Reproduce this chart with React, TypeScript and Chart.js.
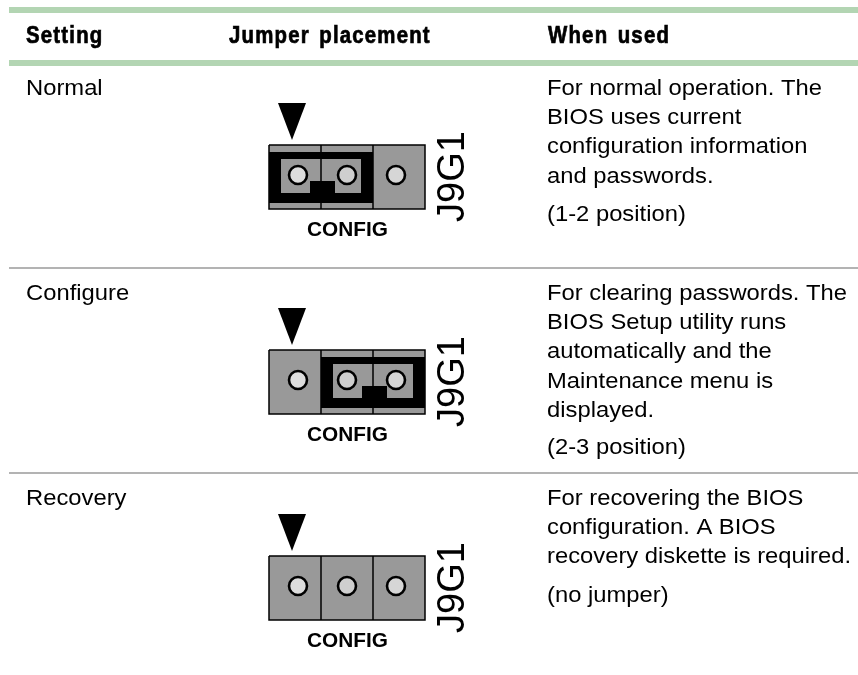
import React, { useEffect, useRef } from "react";
import { Chart, registerables } from "chart.js";

Chart.register(...registerables);

const headers = ["Setting", "Jumper placement", "When used"];
const settings = ["Normal", "Configure", "Recovery"];
const pinLabel = "CONFIG";
const connectorLabel = "J9G1";
const normalUse = ["For normal operation. The", "BIOS uses current", "configuration information", "and passwords."];
const configureUse = ["For clearing passwords. The", "BIOS Setup utility runs", "automatically and the", "Maintenance menu is", "displayed."];
const recoveryUse = ["For recovering the BIOS", "configuration. A BIOS", "recovery diskette is required."];
const positions = ["(1-2 position)", "(2-3 position)", "(no jumper)"];
const jumperFirstPin = [0, 1, null];

const W = 858;
const H = 675;
const BODY = '"Liberation Sans", Arial, sans-serif';

const blockTop = [145, 350, 556];
const rowTextY = [95, 300, 505];
const positionY = [221, 454, 602];
const headerX = [26, 229, 548];
const LINE = 29.2;

type P = { x: number; y: number };
const rect = (x0: number, y0: number, x1: number, y1: number): P[] => [
  { x: x0, y: y0 }, { x: x1, y: y0 }, { x: x1, y: y1 }, { x: x0, y: y1 }, { x: x0, y: y0 },
];
const shape = (data: P[], fill: string, border = fill, borderWidth = 0) => ({
  type: "scatter" as const, data, showLine: true, fill: "shape", tension: 0,
  backgroundColor: fill, borderColor: border, borderWidth, pointRadius: 0,
});
const stroke = (data: P[], width: number) => ({
  type: "scatter" as const, data, showLine: true, fill: false, tension: 0,
  borderColor: "#000", borderWidth: width, pointRadius: 0,
});

function buildDatasets() {
  const out: any[] = [];
  out.push(shape(rect(9, 7, W, 13), "#b3d5b3"));
  out.push(shape(rect(9, 60, W, 66), "#b3d5b3"));
  out.push(shape(rect(9, 267, W, 269), "#b3b3b3"));
  out.push(shape(rect(9, 472, W, 474), "#b3b3b3"));
  blockTop.forEach((t, i) => {
    const b = t + 64;
    out.push(shape([{ x: 278, y: t - 42 }, { x: 306, y: t - 42 }, { x: 292, y: t - 5 }, { x: 278, y: t - 42 }], "#000"));
    out.push(shape(rect(269, t, 425, b), "#999999", "#000", 1.5));
    const first = jumperFirstPin[i];
    if (first !== null) {
      const dx = first * 52;
      out.push(shape(rect(269 + dx, t + 7, 373 + dx, b - 6), "#000"));
      out.push(shape(rect(281 + dx, t + 14, 361 + dx, t + 48), "#999999"));
    }
    [321, 373].forEach((x) => out.push(stroke([{ x, y: t }, { x, y: b }], 1.5)));
    if (first !== null) {
      const dx = first * 52;
      out.push(shape(rect(310 + dx, t + 36, 335 + dx, t + 48), "#000"));
    }
    out.push({
      type: "scatter" as const, showLine: false,
      data: [{ x: 298, y: t + 30 }, { x: 347, y: t + 30 }, { x: 396, y: t + 30 }],
      pointRadius: 9, pointBorderWidth: 2.6, pointBorderColor: "#000",
      pointBackgroundColor: ["#dddddd", "#cfcfcf", "#d6d6d6"],
    });
  });
  return out.reverse();
}

const textPlugin = {
  id: "tableText",
  afterDatasetsDraw(chart: any) {
    const { ctx, scales } = chart;
    const px = (x: number) => scales.x.getPixelForValue(x);
    const py = (y: number) => scales.y.getPixelForValue(y);
    const body = (s: string, x: number, y: number) => {
      ctx.save();
      ctx.translate(px(x), py(y));
      ctx.scale(1.06, 1);
      ctx.font = `22.45px ${BODY}`;
      ctx.fillText(s, 0, 0);
      ctx.restore();
    };
    ctx.save();
    ctx.fillStyle = "#000";
    ctx.strokeStyle = "#000";
    ctx.textBaseline = "alphabetic";
    ctx.textAlign = "left";
    headers.forEach((h, i) => {
      ctx.save();
      ctx.translate(px(headerX[i]), py(43));
      ctx.scale(0.85, 1);
      ctx.font = `bold 24px ${BODY}`;
      (ctx as any).letterSpacing = "1.4px";
      (ctx as any).wordSpacing = "3px";
      ctx.lineWidth = 0.7;
      ctx.fillText(h, 0, 0);
      ctx.strokeText(h, 0, 0);
      ctx.restore();
    });
    settings.forEach((s, i) => body(s, 26, rowTextY[i]));
    [normalUse, configureUse, recoveryUse].forEach((lines, i) => {
      lines.forEach((l, j) => body(l, 547, rowTextY[i] + j * LINE));
      body(positions[i], 547, positionY[i]);
    });
    blockTop.forEach((t) => {
      ctx.font = `bold 20.8px ${BODY}`;
      ctx.fillText(pinLabel, px(307), py(t + 90.5));
      ctx.save();
      ctx.translate(px(464), py(t + 77));
      ctx.rotate(-Math.PI / 2);
      ctx.font = `38px ${BODY}`;
      ctx.fillText(connectorLabel, 0, 0);
      ctx.restore();
    });
    ctx.restore();
  },
};

export default function App() {
  const ref = useRef<HTMLCanvasElement>(null);
  useEffect(() => {
    const chart = new Chart(ref.current!, {
      type: "scatter",
      data: { datasets: buildDatasets() },
      options: {
        animation: false,
        responsive: false,
        layout: { padding: 0, autoPadding: false },
        plugins: { legend: { display: false }, tooltip: { enabled: false }, title: { display: false } },
        scales: {
          x: { type: "linear", min: 0, max: W, display: false },
          y: { type: "linear", min: 0, max: H, reverse: true, display: false },
        },
      },
      plugins: [textPlugin],
    } as any);
    return () => chart.destroy();
  }, []);
  return (
    <div style={{ position: "absolute", left: 0, top: 0, background: "#fff" }}>
      <canvas ref={ref} width={W} height={H} style={{ display: "block" }} />
    </div>
  );
}
